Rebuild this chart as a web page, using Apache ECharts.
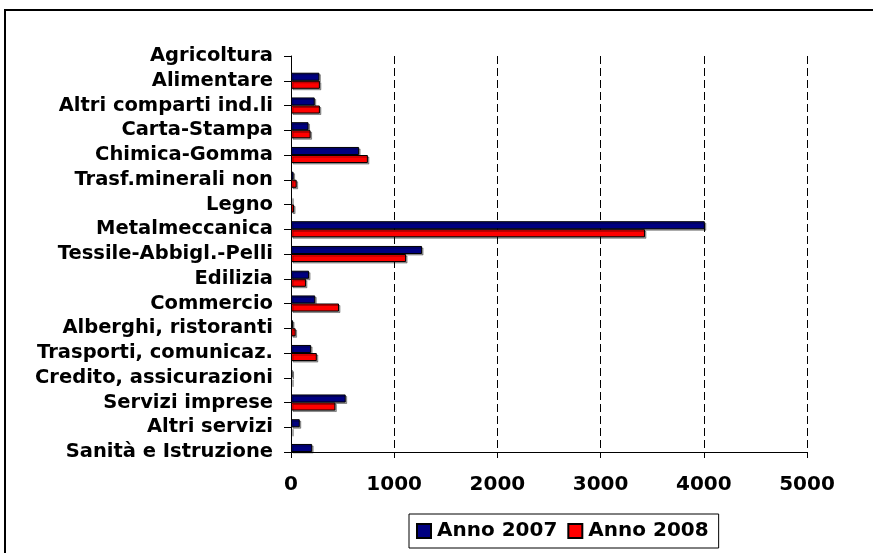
<!DOCTYPE html>
<html>
<head>
<meta charset="utf-8">
<script src="https://cdn.jsdelivr.net/npm/echarts@6/dist/echarts.min.js"></script>
<style>
  html, body { margin: 0; padding: 0; background: #fff; }
  #chart { width: 873px; height: 553px; }
</style>
</head>
<body>
<div id="chart"></div>
<script>
// categorie (dall'alto verso il basso)
const categories = [
  'Agricoltura', 'Alimentare', 'Altri comparti ind.li', 'Carta-Stampa', 'Chimica-Gomma',
  'Trasf.minerali non', 'Legno', 'Metalmeccanica', 'Tessile-Abbigl.-Pelli', 'Edilizia',
  'Commercio', 'Alberghi, ristoranti', 'Trasporti, comunicaz.', 'Credito, assicurazioni',
  'Servizi imprese', 'Altri servizi', 'Sanità e Istruzione'
]
const anno2007 = [0, 275, 230, 170, 660, 25, 10, 4010, 1270, 175, 235, 20, 195, 15, 530, 85, 205]
const anno2008 = [0, 280, 280, 190, 745, 55, 30, 3430, 1115, 145, 465, 45, 250, 10, 430, 10, 0]
const xTicks = [0, 1000, 2000, 3000, 4000, 5000]

const font = 'DejaVu Sans, Verdana, sans-serif'

const chart = echarts.init(document.getElementById('chart'))

const barStyle = color => ({
  color: color,
  borderColor: '#000',
  borderWidth: 1,
  shadowColor: 'rgba(0,0,0,0.35)',
  shadowOffsetX: 1.5,
  shadowOffsetY: 1.5
})

// gli zeri non vanno disegnati (niente bordo fantasma)
const toBars = arr => arr.map(v => (v === 0 ? '-' : v))

chart.setOption({
  backgroundColor: '#fff',
  animation: false,
  // cornice esterna
  graphic: [{
    type: 'rect',
    shape: { x: 5, y: 10, width: 900, height: 600 },
    style: { fill: 'none', stroke: '#000', lineWidth: 2 },
    silent: true
  }],
  legend: {
    left: 409,
    top: 514,
    orient: 'horizontal',
    padding: [7, 10, 7, 7],
    borderColor: '#000',
    borderWidth: 1,
    itemWidth: 14,
    itemHeight: 14,
    itemGap: 10,
    icon: 'rect',
    textStyle: {
      fontFamily: font,
      fontWeight: 'bold',
      fontSize: 20,
      color: '#000',
      padding: [0, 0, 0, 1]
    },
    data: ['Anno 2007', 'Anno 2008']
  },
  grid: {
    left: 291,
    right: 66,
    top: 56,
    bottom: 101
  },
  xAxis: {
    type: 'value',
    min: xTicks[0],
    max: xTicks[xTicks.length - 1],
    interval: 1000,
    axisLine: { show: true, lineStyle: { color: '#000', width: 1 } },
    axisTick: { show: true, length: 6, lineStyle: { color: '#000' } },
    axisLabel: {
      margin: 23,
      fontFamily: font,
      fontWeight: 'bold',
      fontSize: 20,
      color: '#000',
      formatter: v => String(v)
    },
    splitLine: {
      show: true,
      lineStyle: { color: '#000', type: [8, 4], width: 1 }
    }
  },
  yAxis: {
    type: 'category',
    inverse: true,
    boundaryGap: false,
    data: categories,
    axisLine: { show: true, lineStyle: { color: '#000', width: 1 } },
    axisTick: { show: true, length: 7, alignWithLabel: true, lineStyle: { color: '#000' } },
    axisLabel: {
      margin: 18,
      interval: 0,
      fontFamily: font,
      fontWeight: 'bold',
      fontSize: 19.5,
      color: '#000'
    },
    splitLine: { show: false }
  },
  series: [
    {
      name: 'Anno 2007',
      type: 'bar',
      data: toBars(anno2007),
      barGap: 0,
      barCategoryGap: '35%',
      clip: true,
      itemStyle: barStyle('#000080')
    },
    {
      name: 'Anno 2008',
      type: 'bar',
      data: toBars(anno2008),
      barGap: 0,
      barCategoryGap: '35%',
      clip: true,
      itemStyle: barStyle('#ff0000')
    }
  ]
})
</script>
</body>
</html>
